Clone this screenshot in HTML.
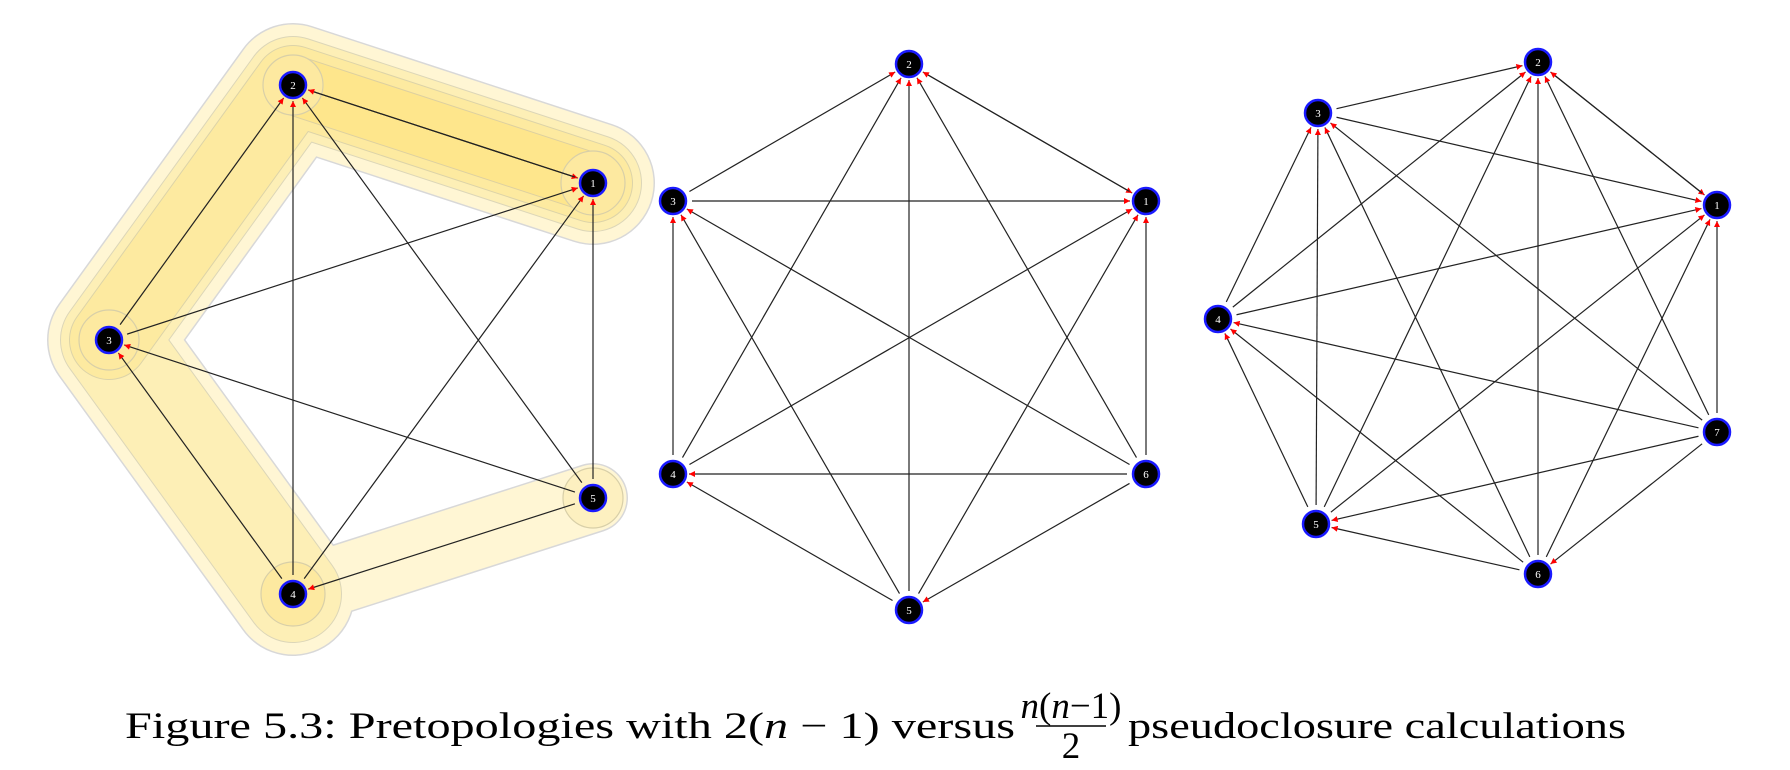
<!DOCTYPE html>
<html><head><meta charset="utf-8">
<style>
html,body{margin:0;padding:0;background:#fff;width:1790px;height:770px;overflow:hidden}
svg{display:block}
.n{fill:#000;stroke:#1a1aff;stroke-width:2.5}
.l{fill:#fff;font-family:"Liberation Serif",serif;font-size:11px;text-anchor:middle}
.cap{font-family:"Liberation Serif",serif;font-size:37px;fill:#000}
</style></head>
<body>
<svg id="s" width="1790" height="770" viewBox="0 0 1790 770" xmlns="http://www.w3.org/2000/svg">
<defs>
<marker id="a" viewBox="0 0 10 10" refX="10" refY="5" markerWidth="7" markerHeight="6" orient="auto" markerUnits="userSpaceOnUse">
<path d="M0,0 L10,5 L0,10 z" fill="#ff0000"/></marker>
</defs>
<g fill="none" stroke-linejoin="round" stroke-linecap="round">
<path d="M593,183 L293,85 L109,340 L293,594" stroke="#d8d8d8" stroke-width="124"/>
<path d="M293,594 L593,498" stroke="#d8d8d8" stroke-width="70"/>
<path d="M593,183 L293,85 L109,340 L293,594" stroke="#fff6d4" stroke-width="121"/>
<path d="M293,594 L593,498" stroke="#fff6d4" stroke-width="67"/>
<path d="M593,183 L293,85 L109,340 L293,594" stroke="#dcd6b8" stroke-width="98"/>
<path d="M593,183 L293,85 L109,340 L293,594" stroke="#fdefb6" stroke-width="96"/>
<path d="M593,183 L293,85 L109,340" stroke="#dcd3a8" stroke-width="80"/>
<path d="M593,183 L293,85 L109,340" stroke="#fdeaa0" stroke-width="78"/>
<path d="M593,183 L293,85" stroke="#ddd0a0" stroke-width="60"/>
<path d="M593,183 L293,85" stroke="#fee68c" stroke-width="58"/>
</g>
<g fill="#fde9a0" stroke="#d8cfa8" stroke-width="1.2">
<circle cx="293" cy="85" r="30"/><circle cx="593" cy="183" r="32"/>
<circle cx="109" cy="340" r="30"/><circle cx="293" cy="594" r="32"/>
<circle cx="593" cy="498" r="30" fill="#fdf0c0"/>
</g>
<g id="edges" stroke="#222" stroke-width="1.2"></g>
<g id="nodes">
<circle class="n" cx="593" cy="183" r="13"/><text class="l" x="593" y="187">1</text>
<circle class="n" cx="293" cy="85" r="13"/><text class="l" x="293" y="89">2</text>
<circle class="n" cx="109" cy="340" r="13"/><text class="l" x="109" y="344">3</text>
<circle class="n" cx="293" cy="594" r="13"/><text class="l" x="293" y="598">4</text>
<circle class="n" cx="593" cy="498" r="13"/><text class="l" x="593" y="502">5</text>

<circle class="n" cx="1146" cy="201" r="13"/><text class="l" x="1146" y="205">1</text>
<circle class="n" cx="909" cy="64" r="13"/><text class="l" x="909" y="68">2</text>
<circle class="n" cx="673" cy="201" r="13"/><text class="l" x="673" y="205">3</text>
<circle class="n" cx="673" cy="474" r="13"/><text class="l" x="673" y="478">4</text>
<circle class="n" cx="909" cy="610" r="13"/><text class="l" x="909" y="614">5</text>
<circle class="n" cx="1146" cy="474" r="13"/><text class="l" x="1146" y="478">6</text>

<circle class="n" cx="1717" cy="205" r="13"/><text class="l" x="1717" y="209">1</text>
<circle class="n" cx="1538" cy="62" r="13"/><text class="l" x="1538" y="66">2</text>
<circle class="n" cx="1318" cy="113" r="13"/><text class="l" x="1318" y="117">3</text>
<circle class="n" cx="1218" cy="319" r="13"/><text class="l" x="1218" y="323">4</text>
<circle class="n" cx="1316" cy="524" r="13"/><text class="l" x="1316" y="528">5</text>
<circle class="n" cx="1538" cy="574" r="13"/><text class="l" x="1538" y="578">6</text>
<circle class="n" cx="1717" cy="432" r="13"/><text class="l" x="1717" y="436">7</text>
</g>
<text class="cap" x="125" y="738" textLength="890" lengthAdjust="spacingAndGlyphs">Figure 5.3: Pretopologies with 2(<tspan font-style="italic">n</tspan> − 1) versus</text>
<text class="cap" x="1071" y="718" text-anchor="middle" font-size="24"><tspan font-style="italic">n</tspan>(<tspan font-style="italic">n</tspan>−1)</text>
<line x1="1036" y1="726" x2="1106" y2="726" stroke="#000" stroke-width="1.6"/>
<text class="cap" x="1071" y="758" text-anchor="middle" font-size="26">2</text>
<text class="cap" x="1128" y="738" textLength="498" lengthAdjust="spacingAndGlyphs">pseudoclosure calculations</text>
</svg>
<script>
var G=[
 [[593,183],[293,85],[109,340],[293,594],[593,498]],
 [[1146,201],[909,64],[673,201],[673,474],[909,610],[1146,474]],
 [[1717,205],[1538,62],[1318,113],[1218,319],[1316,524],[1538,574],[1717,432]]
];
var e=document.getElementById('edges'),ns="http://www.w3.org/2000/svg";
function L(p,q){var dx=q[0]-p[0],dy=q[1]-p[1],d=Math.sqrt(dx*dx+dy*dy),ux=dx/d,uy=dy/d;
 var l=document.createElementNS(ns,'line');
 l.setAttribute('x1',p[0]+ux*19);l.setAttribute('y1',p[1]+uy*19);
 l.setAttribute('x2',q[0]-ux*16);l.setAttribute('y2',q[1]-uy*16);
 l.setAttribute('marker-end','url(#a)');e.appendChild(l);}
G.forEach(function(P){for(var i=0;i<P.length;i++)for(var j=i+1;j<P.length;j++)L(P[j],P[i]);L(P[0],P[1]);});
</script>
</body></html>
